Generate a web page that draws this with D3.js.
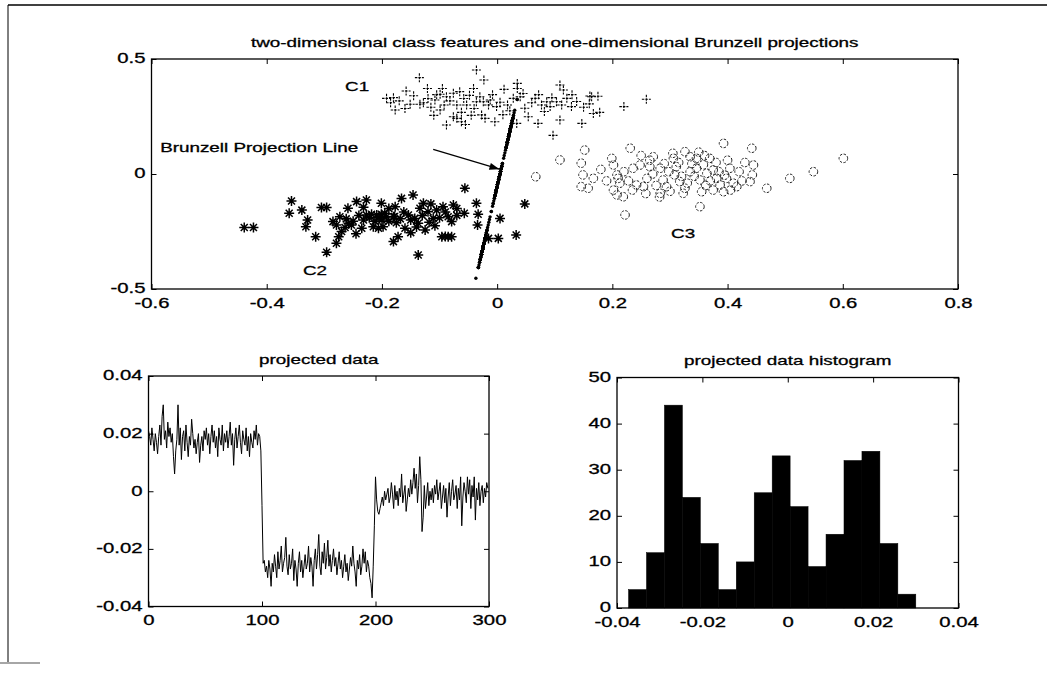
<!DOCTYPE html>
<html>
<head>
<meta charset="utf-8">
<script src="https://cdn.jsdelivr.net/npm/d3@7"></script>
<style>
  body { margin: 0; background: #fff; }
  svg text { font-family: "Liberation Sans", Arial, sans-serif; fill: #000; stroke: #000; stroke-width: 0.3px; }
</style>
</head>
<body>
<svg id="fig" width="1047" height="681"></svg>
<script>
"use strict";

// --- data ---
var topTitle = "two-dimensional class features and one-dimensional Brunzell projections";
var topXTicks = [-0.6, -0.4, -0.2, 0, 0.2, 0.4, 0.6, 0.8];
var topXLabels = ["-0.6", "-0.4", "-0.2", "0", "0.2", "0.4", "0.6", "0.8"];
var topYTicks = [-0.5, 0, 0.5];
var topYLabels = ["-0.5", "0", "0.5"];

// class C1 (+)
var c1Points = [
  [-0.036,0.452],[-0.135,0.419],[-0.023,0.409],[0.035,0.394],[0.035,0.372],[-0.158,0.361],[-0.121,0.372],
  [-0.095,0.372],[-0.041,0.372],[0.012,0.368],[0.109,0.387],[0.115,0.365],[-0.192,0.329],[-0.180,0.332],
  [-0.177,0.278],[-0.151,0.303],[-0.134,0.303],[-0.108,0.322],[-0.099,0.347],[-0.088,0.336],[-0.076,0.351],
  [-0.065,0.358],[-0.053,0.300],[-0.036,0.314],[-0.030,0.336],[-0.024,0.314],[-0.012,0.322],[-0.001,0.293],
  [-0.099,0.278],[-0.076,0.249],[-0.070,0.242],[-0.088,0.213],[-0.062,0.227],[-0.027,0.257],[-0.021,0.242],
  [-0.004,0.227],[0.028,0.329],[0.040,0.336],[0.048,0.286],[0.054,0.249],[0.066,0.329],[0.077,0.300],
  [0.086,0.314],[0.092,0.293],[0.103,0.314],[0.121,0.329],[0.129,0.293],[0.109,0.235],[0.071,0.220],
  [0.034,0.220],[0.097,0.168],[0.164,0.336],[0.167,0.263],[0.147,0.220],[0.220,0.293],[0.259,0.325],
  [0.161,0.339],[-0.185,0.310],[-0.170,0.318],[-0.145,0.340],[-0.128,0.310],[-0.115,0.290],[-0.105,0.345],
  [-0.082,0.318],[-0.070,0.300],[-0.058,0.328],[-0.048,0.342],[-0.040,0.285],[-0.015,0.300],[-0.008,0.345],
  [0.005,0.312],[0.018,0.300],[0.022,0.275],[0.060,0.310],[0.072,0.345],[0.082,0.272],[0.095,0.332],
  [0.112,0.300],[0.138,0.315],[0.150,0.290],[0.160,0.305],[0.178,0.268],[-0.062,0.268],[-0.045,0.255],
  [-0.110,0.255],[-0.055,0.215],[0.010,0.258],[0.045,0.350],[-0.160,0.285],[0.175,0.338],[-0.092,0.300],
  [-0.120,0.328],[0.130,0.345]
];

// class C2 (*)
var c2Points = [
  [-0.439,-0.233],[-0.423,-0.233],[-0.357,-0.117],[-0.361,-0.171],[-0.339,-0.157],[-0.329,-0.200],
  [-0.332,-0.229],[-0.315,-0.273],[-0.305,-0.146],[-0.296,-0.146],[-0.296,-0.340],[-0.279,-0.301],
  [-0.275,-0.273],[-0.285,-0.207],[-0.279,-0.222],[-0.273,-0.186],[-0.264,-0.233],[-0.259,-0.149],
  [-0.253,-0.222],[-0.244,-0.120],[-0.235,-0.236],[-0.227,-0.113],[-0.227,-0.178],[-0.218,-0.175],
  [-0.209,-0.178],[-0.201,-0.127],[-0.201,-0.175],[-0.215,-0.229],[-0.206,-0.236],[-0.198,-0.229],
  [-0.192,-0.186],[-0.180,-0.186],[-0.177,-0.142],[-0.166,-0.106],[-0.146,-0.091],[-0.172,-0.273],
  [-0.180,-0.294],[-0.160,-0.236],[-0.154,-0.178],[-0.143,-0.193],[-0.137,-0.214],[-0.134,-0.149],
  [-0.128,-0.127],[-0.125,-0.243],[-0.137,-0.352],[-0.120,-0.164],[-0.111,-0.193],[-0.105,-0.157],
  [-0.094,-0.142],[-0.085,-0.186],[-0.079,-0.207],[-0.096,-0.273],[-0.085,-0.273],[-0.079,-0.273],
  [-0.076,-0.135],[-0.056,-0.062],[-0.057,-0.171],[-0.036,-0.127],[-0.033,-0.175],[-0.034,-0.222],
  [0.005,-0.193],[-0.015,-0.280],[0.002,-0.280],[0.033,-0.265],[0.048,-0.130],
  [-0.262,-0.195],[-0.250,-0.205],[-0.240,-0.180],[-0.232,-0.200],[-0.222,-0.190],[-0.212,-0.205],
  [-0.205,-0.190],[-0.195,-0.172],[-0.188,-0.205],[-0.175,-0.212],[-0.168,-0.195],[-0.162,-0.165],
  [-0.150,-0.200],[-0.140,-0.230],[-0.130,-0.180],[-0.118,-0.210],[-0.108,-0.225],[-0.100,-0.190],
  [-0.090,-0.165],[-0.070,-0.180],[-0.245,-0.260],[-0.270,-0.250],[-0.232,-0.145],[-0.188,-0.150],
  [-0.115,-0.130],[-0.150,-0.255],[-0.070,-0.150],[-0.258,-0.215],[-0.200,-0.200],[-0.178,-0.185],
  [-0.090,-0.272]
];

// class C3 (o)
var c3Points = [
  [0.109,0.061],[0.152,0.104],[0.146,0.047],[0.149,-0.004],[0.167,-0.019],[0.146,-0.055],[0.158,-0.062],
  [0.199,0.068],[0.202,0.039],[0.208,-0.004],[0.210,-0.019],[0.213,-0.040],[0.202,-0.070],[0.208,-0.091],
  [0.219,-0.099],[0.231,0.112],[0.222,-0.178],[0.236,0.025],[0.248,0.039],[0.242,-0.048],[0.254,-0.055],
  [0.260,-0.019],[0.265,0.032],[0.271,0.075],[0.283,0.025],[0.288,-0.026],[0.294,-0.055],[0.283,-0.084],
  [0.306,0.068],[0.311,0.032],[0.308,-0.004],[0.317,-0.033],[0.323,-0.084],[0.326,-0.062],[0.335,0.010],
  [0.335,0.075],[0.326,0.097],[0.346,0.068],[0.346,0.025],[0.352,-0.026],[0.355,-0.077],[0.352,-0.142],
  [0.369,0.068],[0.375,0.017],[0.364,0.003],[0.381,-0.019],[0.375,-0.070],[0.387,-0.048],[0.393,0.133],
  [0.404,0.025],[0.398,-0.019],[0.410,-0.040],[0.416,-0.055],[0.393,-0.077],[0.442,0.112],[0.445,0.039],
  [0.443,-0.004],[0.439,-0.033],[0.468,-0.062],[0.508,-0.019],[0.549,0.010],[0.601,0.068],[0.067,-0.012],
  [0.220,0.010],[0.228,-0.030],[0.235,-0.070],[0.250,0.080],[0.258,-0.085],[0.270,0.000],[0.276,-0.050],
  [0.290,0.045],[0.298,0.010],[0.300,-0.075],[0.315,0.050],[0.320,-0.010],[0.330,-0.040],[0.338,0.045],
  [0.342,-0.010],[0.358,0.040],[0.362,-0.050],[0.370,-0.030],[0.380,0.050],[0.385,0.010],[0.395,-0.005],
  [0.400,0.060],[0.405,-0.070],[0.420,0.010],[0.425,-0.030],[0.430,0.050],[0.180,0.020],[0.190,-0.030],
  [0.265,0.060],[0.305,0.090],[0.350,0.095],[0.360,0.080],[0.282,-0.100]
];

// where the 1-D projection sits in the 2-D plane: point = origin + p * direction
var projOrigin = [0.0027, -0.024];
var projDir = [1.07, 11.6];

var classLabels = [
  { text: "C1", x: -0.264, y: 0.36 },
  { text: "C2", x: -0.337, y: -0.44 },
  { text: "C3", x: 0.302, y: -0.278 }
];
var noteText = "Brunzell Projection Line";
var notePos = [-0.585, 0.097];
var arrowFrom = [-0.111, 0.107];
var arrowTo = [0.004, 0.021];

// projected data, samples 0..299 (C1, C2, C3 in turn)
var projected = [
  0.021, 0.019, 0.016, 0.022, 0.018, 0.014, 0.020, 0.017, 0.013, 0.019,
  0.023, 0.016, 0.026, 0.030, 0.018, 0.021, 0.015, 0.024, 0.019, 0.022,
  0.017, 0.020, 0.012, 0.006, 0.014, 0.018, 0.030, 0.016, 0.022, 0.011,
  0.019, 0.021, 0.014, 0.023, 0.017, 0.012, 0.019, 0.016, 0.025, 0.020,
  0.015, 0.018, 0.013, 0.017, 0.020, 0.010, 0.016, 0.019, 0.014, 0.021,
  0.018, 0.022, 0.016, 0.020, 0.013, 0.019, 0.023, 0.017, 0.021, 0.015,
  0.019, 0.012, 0.022, 0.018, 0.016, 0.023, 0.014, 0.020, 0.017, 0.021,
  0.015, 0.019, 0.024, 0.016, 0.020, 0.009, 0.018, 0.022, 0.015, 0.019,
  0.023, 0.017, 0.013, 0.021, 0.018, 0.016, 0.022, 0.014, 0.019, 0.012,
  0.020, 0.017, 0.015, 0.021, 0.018, 0.023, 0.016, 0.020, 0.019, 0.014,
  -0.005, -0.025, -0.024, -0.028, -0.026, -0.030, -0.024, -0.027, -0.033, -0.025,
  -0.028, -0.022, -0.026, -0.030, -0.021, -0.027, -0.024, -0.019, -0.028, -0.025,
  -0.023, -0.016, -0.026, -0.029, -0.022, -0.027, -0.025, -0.020, -0.031, -0.024,
  -0.027, -0.033, -0.025, -0.021, -0.028, -0.024, -0.030, -0.026, -0.022, -0.027,
  -0.025, -0.019, -0.028, -0.023, -0.026, -0.033, -0.024, -0.020, -0.027, -0.022,
  -0.015, -0.026, -0.029, -0.021, -0.025, -0.018, -0.027, -0.023, -0.017, -0.026,
  -0.022, -0.028, -0.024, -0.020, -0.026, -0.023, -0.029, -0.025, -0.021, -0.027,
  -0.024, -0.030, -0.026, -0.022, -0.028, -0.025, -0.031, -0.027, -0.023, -0.026,
  -0.019, -0.025, -0.028, -0.033, -0.024, -0.027, -0.022, -0.029, -0.026, -0.020,
  -0.025, -0.021, -0.028, -0.024, -0.026, -0.030, -0.032, -0.037, -0.026, -0.012,
  0.005, -0.003, -0.007, -0.008, -0.006, -0.004, -0.002, -0.005, 0.000, -0.003,
  -0.001, 0.001, -0.004, -0.002, 0.003, -0.001, -0.006, 0.002, -0.003, 0.000,
  -0.005, 0.001, -0.002, 0.006, -0.004, -0.001, 0.002, -0.007, -0.003, 0.001,
  -0.002, 0.004, -0.001, 0.003, 0.008, 0.001, 0.006, -0.004, 0.002, 0.012,
  0.004, -0.014, -0.009, 0.002, -0.006, -0.002, 0.003, -0.005, 0.000, -0.003,
  0.001, -0.004, 0.002, -0.001, 0.004, -0.003, 0.000, 0.003, -0.006, -0.002,
  0.002, -0.004, 0.001, -0.009, -0.002, 0.003, -0.005, 0.000, 0.004, -0.003,
  -0.001, 0.002, -0.006, 0.001, -0.003, 0.005, -0.012, -0.002, 0.003, 0.000,
  -0.004, 0.005, -0.001, 0.004, -0.006, 0.002, -0.002, 0.005, -0.010, 0.001,
  -0.003, 0.003, -0.005, 0.000, 0.002, -0.004, 0.001, -0.002, 0.003, 0.001
];
var lineXTicks = [0, 100, 200, 300];
var lineXLabels = ["0", "100", "200", "300"];
var lineYTicks = [-0.04, -0.02, 0, 0.02, 0.04];
var lineYLabels = ["-0.04", "-0.02", "0", "0.02", "0.04"];

// histogram: 16 equal bins from histStart to histEnd
var histCounts = [4, 12, 44, 24, 14, 4, 10, 25, 33, 22, 9, 16, 32, 34, 14, 3];
var histStart = -0.0373;
var histEnd = 0.0300;
var histXTicks = [-0.04, -0.02, 0, 0.02, 0.04];
var histXLabels = ["-0.04", "-0.02", "0", "0.02", "0.04"];
var histYTicks = [0, 10, 20, 30, 40, 50];
var histYLabels = ["0", "10", "20", "30", "40", "50"];

// --- drawing ---
var FS = 13, TICK_FS = 14, SX = 1.45;   // the scanned lettering is wide
var svg = d3.select("#fig");

// page frame from the scan
svg.append("line").attr("x1", 8).attr("y1", 5).attr("x2", 1047).attr("y2", 5)
  .attr("stroke", "#000").attr("stroke-width", 1.5);
svg.append("line").attr("x1", 8).attr("y1", 5).attr("x2", 8).attr("y2", 662)
  .attr("stroke", "#000").attr("stroke-width", 1);
svg.append("line").attr("x1", 0).attr("y1", 663).attr("x2", 40).attr("y2", 663)
  .attr("stroke", "#888").attr("stroke-width", 1.5);

function wideText(sel) {
  sel.style("font-size", TICK_FS + "px").attr("transform", "scale(" + SX + ",1)");
}

function addText(g, str, px, py, anchor) {
  g.append("text").text(str)
    .attr("x", px / SX).attr("y", py)
    .attr("text-anchor", anchor || "start")
    .style("font-size", FS + "px")
    .attr("transform", "scale(" + SX + ",1)");
}

function frame(g, x, y, xt, xl, yt, yl, title) {
  var x0 = x.range()[0], x1 = x.range()[1], y0 = y.range()[0], y1 = y.range()[1];
  var gx = g.append("g").attr("transform", "translate(0," + y0 + ")")
    .call(d3.axisBottom(x).tickValues(xt).tickFormat(function (d, i) { return xl[i]; })
      .tickSizeInner(-5).tickSizeOuter(0).tickPadding(9));
  gx.selectAll("text").call(wideText);
  var gy = g.append("g").attr("transform", "translate(" + x0 + ",0)")
    .call(d3.axisLeft(y).tickValues(yt).tickFormat(function (d, i) { return yl[i]; })
      .tickSizeInner(-5).tickSizeOuter(0).tickPadding(7));
  gy.selectAll("text").call(wideText).attr("x", -6 / SX).attr("dy", "0.28em");
  g.append("g").attr("transform", "translate(0," + y1 + ")")
    .call(d3.axisTop(x).tickValues(xt).tickFormat("").tickSizeInner(-5).tickSizeOuter(0));
  g.append("g").attr("transform", "translate(" + x1 + ",0)")
    .call(d3.axisRight(y).tickValues(yt).tickFormat("").tickSizeInner(-5).tickSizeOuter(0));
  g.selectAll(".domain").remove();
  g.selectAll(".tick line").attr("stroke", "#000");
  g.append("rect").attr("x", x0).attr("y", y1).attr("width", x1 - x0).attr("height", y0 - y1)
    .attr("fill", "none").attr("stroke", "#000").attr("stroke-width", 1.3);
  addText(g, title, (x0 + x1) / 2, y1 - 12, "middle");
}

// top scatter
var sx = d3.scaleLinear().domain([-0.6, 0.8]).range([151.5, 958]);
var sy = d3.scaleLinear().domain([-0.5, 0.5]).range([289, 59]);
var gTop = svg.append("g");

var plusPath = "M-4.5,0H4.5M0,-4.5V4.5";
var starPath = "M-5,0H5M0,-5V5M-3.5,-3.5L3.5,3.5M-3.5,3.5L3.5,-3.5";

gTop.append("g").selectAll("path").data(c1Points).enter().append("path")
  .attr("d", plusPath)
  .attr("transform", function (d) { return "translate(" + sx(d[0]) + "," + sy(d[1]) + ")"; })
  .attr("stroke", "#000").attr("stroke-width", 1.1).attr("stroke-dasharray", "2.5,1");
gTop.append("g").selectAll("path").data(c2Points).enter().append("path")
  .attr("d", starPath)
  .attr("transform", function (d) { return "translate(" + sx(d[0]) + "," + sy(d[1]) + ")"; })
  .attr("stroke", "#000").attr("stroke-width", 1.5);
gTop.append("g").selectAll("circle").data(c3Points).enter().append("circle")
  .attr("cx", function (d) { return sx(d[0]); })
  .attr("cy", function (d) { return sy(d[1]); })
  .attr("r", 4.3)
  .attr("fill", "none").attr("stroke", "#222").attr("stroke-width", 1)
  .attr("stroke-dasharray", "2.5,1.5");

// projected points on the Brunzell line
gTop.append("g").selectAll("circle").data(projected).enter().append("circle")
  .attr("cx", function (p) { return sx(projOrigin[0] + projDir[0] * p); })
  .attr("cy", function (p) { return sy(projOrigin[1] + projDir[1] * p); })
  .attr("r", 1.7).attr("fill", "#000");

classLabels.forEach(function (c) { addText(gTop, c.text, sx(c.x), sy(c.y)); });
addText(gTop, noteText, sx(notePos[0]), sy(notePos[1]));

// arrow
var ax0 = sx(arrowFrom[0]), ay0 = sy(arrowFrom[1]), ax1 = sx(arrowTo[0]), ay1 = sy(arrowTo[1]);
gTop.append("line").attr("x1", ax0).attr("y1", ay0).attr("x2", ax1).attr("y2", ay1)
  .attr("stroke", "#000").attr("stroke-width", 1.2);
var ang = Math.atan2(ay1 - ay0, ax1 - ax0);
var hl = 10, hw = 3.5;
var bx = ax1 - hl * Math.cos(ang), by = ay1 - hl * Math.sin(ang);
gTop.append("path")
  .attr("d", "M" + ax1 + "," + ay1 +
    "L" + (bx + hw * Math.sin(ang)) + "," + (by - hw * Math.cos(ang)) +
    "L" + (bx - hw * Math.sin(ang)) + "," + (by + hw * Math.cos(ang)) + "Z")
  .attr("fill", "#000");

frame(gTop, sx, sy, topXTicks, topXLabels, topYTicks, topYLabels, topTitle);

// projected data line
var lx = d3.scaleLinear().domain([0, 300]).range([148.5, 489]);
var ly = d3.scaleLinear().domain([-0.04, 0.04]).range([606.5, 376]);
var gLine = svg.append("g");
gLine.append("path").datum(projected)
  .attr("d", d3.line().x(function (d, i) { return lx(i); }).y(function (d) { return ly(d); }))
  .attr("fill", "none").attr("stroke", "#000").attr("stroke-width", 1);
frame(gLine, lx, ly, lineXTicks, lineXLabels, lineYTicks, lineYLabels, "projected data");

// histogram
var hx = d3.scaleLinear().domain([-0.04, 0.04]).range([617, 958.5]);
var hy = d3.scaleLinear().domain([0, 50]).range([608, 377.5]);
var binW = (histEnd - histStart) / histCounts.length;
var gHist = svg.append("g");
gHist.append("g").selectAll("rect").data(histCounts).enter().append("rect")
  .attr("x", function (d, i) { return hx(histStart + i * binW); })
  .attr("width", function (d, i) { return hx(histStart + (i + 1) * binW) - hx(histStart + i * binW); })
  .attr("y", function (d) { return hy(d); })
  .attr("height", function (d) { return hy(0) - hy(d); })
  .attr("fill", "#000").attr("stroke", "#000").attr("stroke-width", 0.5);
frame(gHist, hx, hy, histXTicks, histXLabels, histYTicks, histYLabels, "projected data histogram");
</script>
</body>
</html>
